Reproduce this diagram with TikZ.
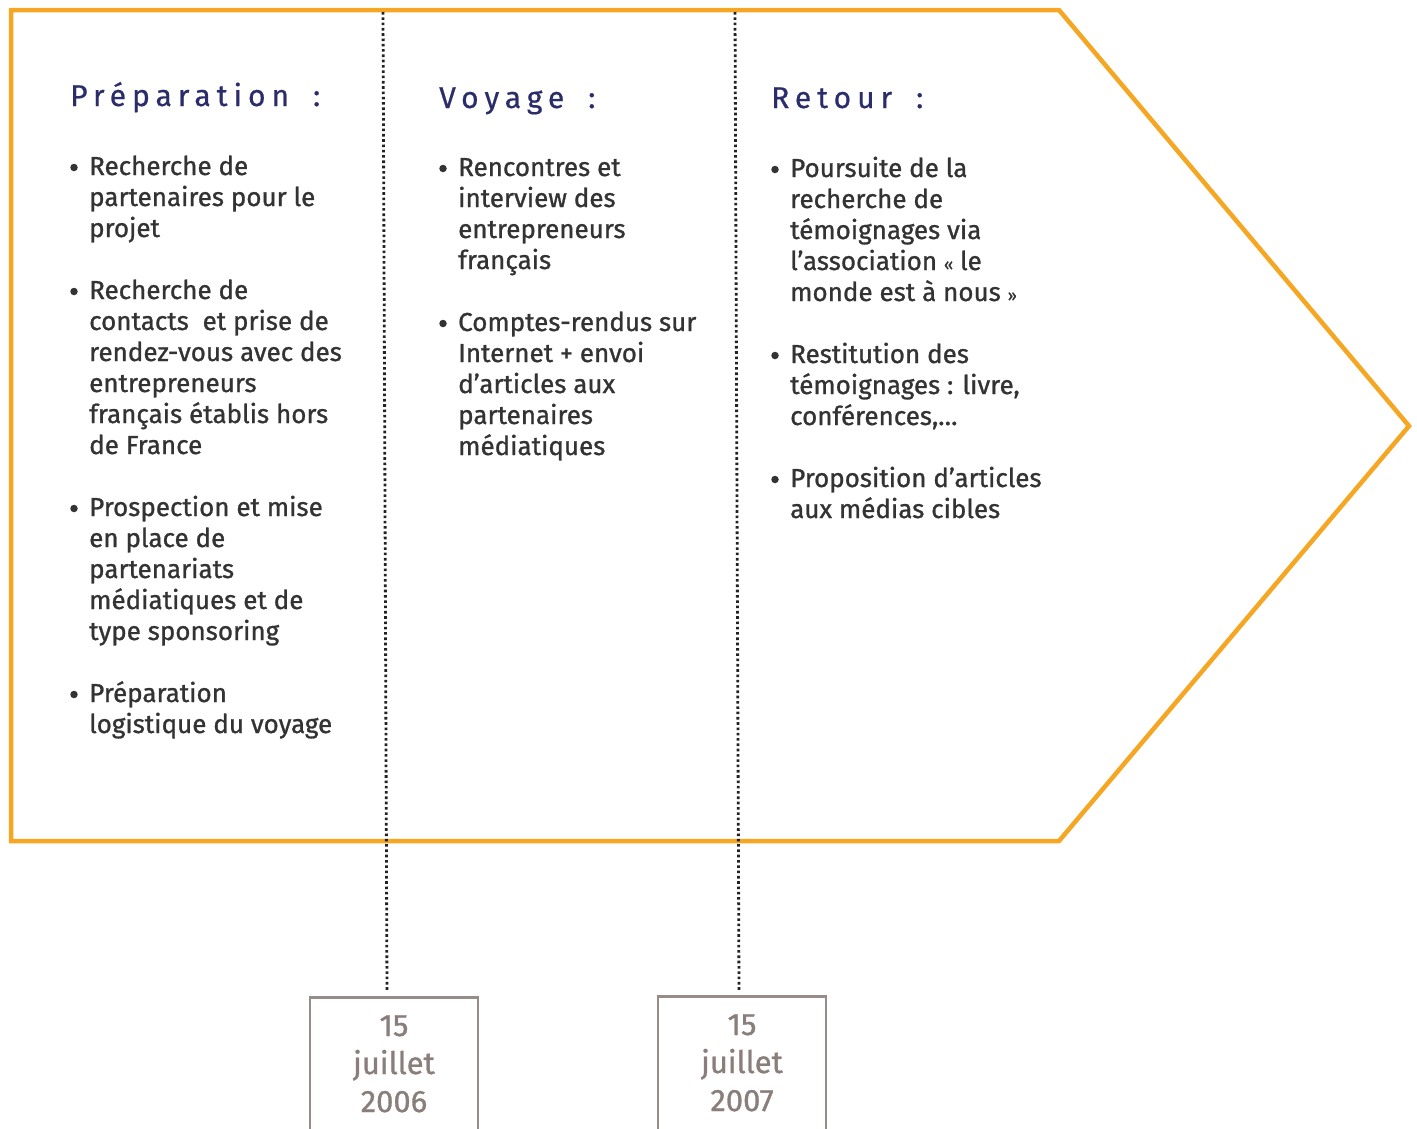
\documentclass[tikz,border=0pt]{standalone}
\usepackage{fontspec}
\setmainfont{Fira Sans}[FakeBold=0.6]
\usetikzlibrary{calc}
\definecolor{frameorange}{HTML}{F5A623}
\definecolor{headnavy}{HTML}{2B2D6A}
\definecolor{bodygrey}{HTML}{333333}
\definecolor{dategrey}{HTML}{8A7E7A}
\definecolor{boxgrey}{HTML}{988C88}
\definecolor{dotgrey}{HTML}{222222}

% one bulleted paragraph: name prefix, text x, first baseline, lines
\newcommand\bulletitem[4]{%
  \node[bulletmark] (#1-b) at (#2-15,{#3-7.5}) {};
  \foreach \ln [count=\k] in {#4}
    \node[bodytext] (#1-\k) at (#2,{#3+(\k-1)*31}) {\ln};
}

\begin{document}
\begin{tikzpicture}[x=1pt,y=-1pt,
  frame/.style={draw=frameorange,line width=4.5pt,line join=miter},
  heading/.style={anchor=base west,inner sep=0pt,text=headnavy,
    font={\fontsize{30}{36}\selectfont\addfontfeature{LetterSpace=20}}},
  bodytext/.style={anchor=base west,inner sep=0pt,text=bodygrey,
    font={\fontsize{26}{31}\selectfont\addfontfeature{FakeBold=1}}},
  bulletmark/.style={circle,fill=bodygrey,inner sep=0pt,minimum size=7.5pt},
  datebox/.style={draw=boxgrey,line width=2.5pt,minimum width=168pt,
    minimum height=180pt,anchor=north,inner sep=0pt},
  datetext/.style={anchor=base,inner sep=0pt,text=dategrey,
    font={\fontsize{31}{38}\selectfont\addfontfeature{FakeBold=1}}},
  divider/.style={draw=dotgrey,line width=2.8pt,dash pattern=on 2.6pt off 2.7pt}
]
\useasboundingbox (0,0) rectangle (1417,1128);

% chevron frame
\draw[frame] (11,10) -- (1059,10) -- (1409,426) -- (1059,841) -- (11,841) -- cycle;

% date boxes
\node[datebox] (d1) at (394,996) {};
\node[datebox] (d2) at (742,995) {};
\node[datetext] (d1a) at (394,1036) {15};
\node[datetext] (d1b) at (394,1074) {juillet};
\node[datetext] (d1c) at (394,1112) {2006};
\node[datetext] (d2a) at (742,1035) {15};
\node[datetext] (d2b) at (742,1073) {juillet};
\node[datetext] (d2c) at (742,1111) {2007};

% dotted dividers down to the dates
\coordinate (t1) at (383,12);
\coordinate (t2) at (735,12);
\draw[divider] (t1) -- ($(d1.north)+(-7,-4)$);
\draw[divider] (t2) -- ($(d2.north)+(-3,-4)$);

% headings
\node[heading] (h1) at (70,106) {Préparation\ \hspace*{10pt}:};
\node[heading] (h2) at (439,108) {Voyage\ \hspace*{10pt}:};
\node[heading] (h3) at (771,108) {Retour\ \hspace*{10pt}:};

% Préparation
\bulletitem{pa}{89}{175}{Recherche de,partenaires pour le,projet}
\bulletitem{pb}{89}{299}{Recherche de,contacts\ \ et prise de,rendez-vous avec des,entrepreneurs,français établis hors,de France}
\bulletitem{pc}{89}{516}{Prospection et mise,en place de,partenariats,médiatiques et de,type sponsoring}
\bulletitem{pd}{89}{702}{Préparation,logistique du voyage}

% Voyage
\bulletitem{va}{458}{176}{Rencontres et,interview des,entrepreneurs,français}
\bulletitem{vb}{458}{331}{Comptes-rendus sur,Internet + envoi,d’articles aux,partenaires,médiatiques}

% Retour
\bulletitem{ra}{790}{177}{Poursuite de la,recherche de,témoignages via,l’association {\fontsize{16}{20}\selectfont«} le,monde est à nous {\fontsize{16}{20}\selectfont»}}
\bulletitem{rb}{790}{363}{Restitution des,{témoignages : livre,},{conférences,…}}
\bulletitem{rc}{790}{487}{Proposition d’articles,aux médias cibles}
\end{tikzpicture}
\end{document}
